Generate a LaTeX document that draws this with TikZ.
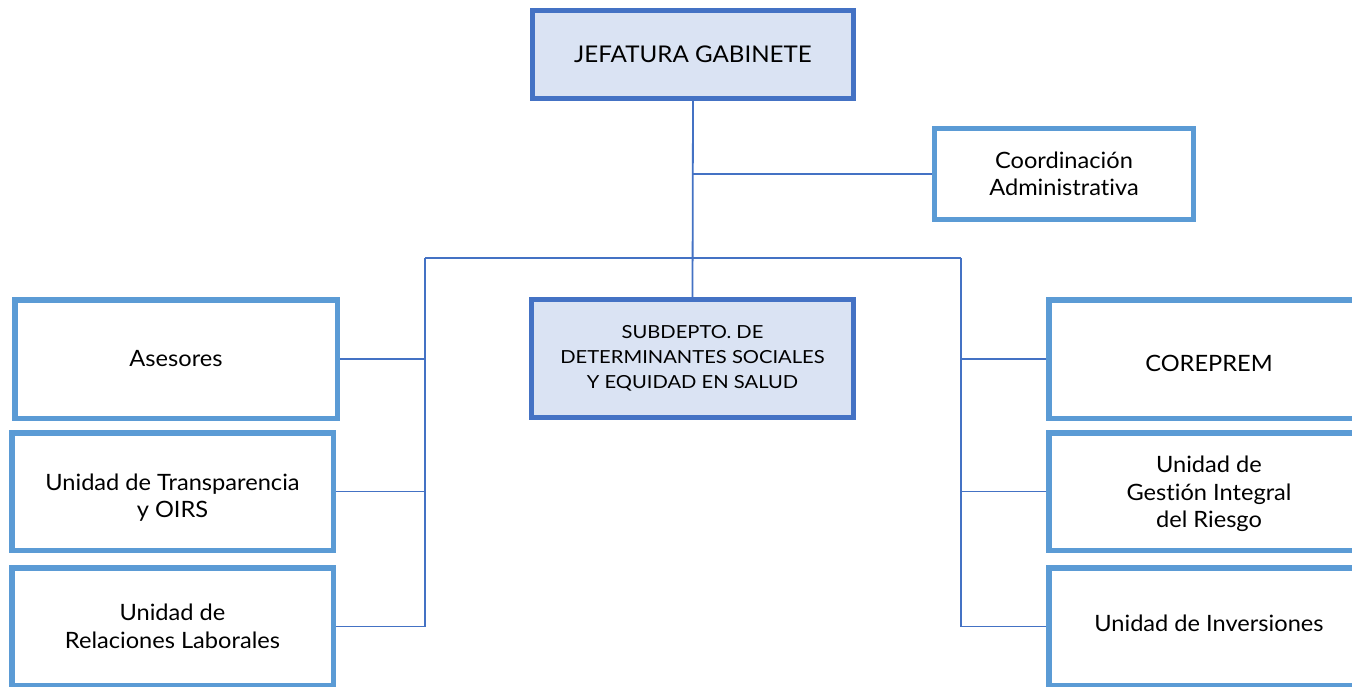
\documentclass[tikz,border=0pt]{standalone}
\usepackage{fontspec}
\setmainfont{Lato}
\newfontfamily\widelato[FakeStretch=1.05,Ligatures=NoCommon]{Lato}
\newfontfamily\widerlato[FakeStretch=1.12,Ligatures=NoCommon]{Lato}
\definecolor{darkb}{HTML}{4472C4}
\definecolor{lightb}{HTML}{5B9BD5}
\definecolor{fillb}{HTML}{DAE3F3}
\newcommand{\shiftdown}[2]{\raisebox{-#1}[\height][\depth]{#2}}
\begin{document}
\begin{tikzpicture}[x=1pt,y=-1pt,
  mainbox/.style={draw=darkb,fill=fillb,line width=5pt,inner sep=0pt,align=center,
    minimum width=321pt,minimum height=88pt,font=\widelato\fontsize{23}{28}\selectfont},
  sidebox/.style={draw=lightb,fill=white,line width=5.5pt,inner sep=0pt,align=center,
    minimum width=321.5pt,minimum height=117.5pt,font=\widelato\fontsize{22.5}{27.5}\selectfont},
  conn/.style={draw=darkb,line width=1.8pt}]
\useasboundingbox (0,0) rectangle (1352,686);
\clip (0,0) rectangle (1352,686);
\fill[white] (0,0) rectangle (1352,686);
% coordinates of the buses
\coordinate (lt) at (425,258);
\coordinate (rt) at (961,258);
% nodes
\node[mainbox] (jef) at (693,54.5) {JEFATURA GABINETE};
\node[sidebox,draw=lightb,line width=5pt,minimum width=259pt,minimum height=91pt] (coord) at (1064,174) {Coordinación\\Administrativa};
\node[mainbox,minimum width=322pt,minimum height=118pt,font=\widerlato\fontsize{18}{25}\selectfont] (sub) at (692.5,358.5) {SUBDEPTO. DE\\DETERMINANTES SOCIALES\\Y EQUIDAD EN SALUD};
\node[sidebox,minimum width=322.5pt,minimum height=118.5pt] (ases) at (176,359) {Asesores};
\node[sidebox] (trans) at (172.5,491.5) {\shiftdown{7pt}{\begin{tabular}{@{}c@{}}Unidad de Transparencia\\y OIRS\end{tabular}}};
\node[sidebox] (rel) at (172.5,626.5) {Unidad de\\Relaciones Laborales};
\node[sidebox,minimum width=320.5pt,minimum height=118.5pt] (core) at (1209,359) {\shiftdown{4pt}{COREPREM}};
\node[sidebox,minimum width=320.5pt] (gest) at (1209,491.5) {\shiftdown{3pt}{\begin{tabular}{@{}c@{}}Unidad de\\Gestión Integral\\del Riesgo\end{tabular}}};
\node[sidebox,minimum width=320.5pt] (inv) at (1209,626.5) {\shiftdown{-3pt}{Unidad de Inversiones}};
% connectors
\draw[conn] (jef.south) -- (sub.north);
\draw[conn] (coord.west -| jef.south) -- (coord.west);
\draw[conn] (lt) -- (rt);
\draw[conn] (lt) -- (rel.east -| lt) -- (rel.east);
\draw[conn] (rt) -- (inv.west -| rt) -- (inv.west);
\draw[conn] (ases.east) -- (ases.east -| lt);
\draw[conn] (trans.east) -- (trans.east -| lt);
\draw[conn] (core.west) -- (core.west -| rt);
\draw[conn] (gest.west) -- (gest.west -| rt);
\end{tikzpicture}
\end{document}
